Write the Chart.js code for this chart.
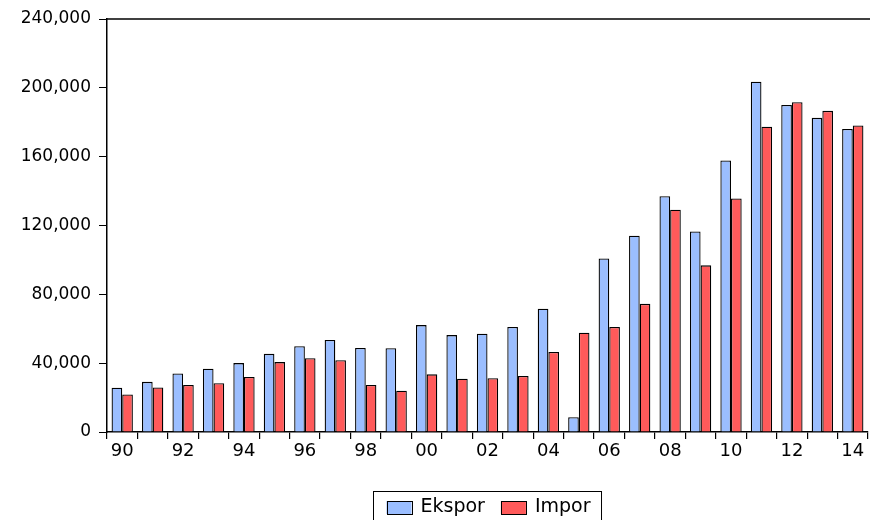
<!DOCTYPE html>
<html>
<head>
<meta charset="utf-8">
<script src="https://cdn.jsdelivr.net/npm/chart.js@4.4.1/dist/chart.umd.min.js"></script>
<style>
  html, body { margin: 0; padding: 0; background: #fff; }
  #wrap { width: 870px; height: 520px; position: relative; }
</style>
</head>
<body>
<div id="wrap"><canvas id="chart"></canvas></div>
<script>
// Data (juta US$)
const years = [1990, 1991, 1992, 1993, 1994, 1995, 1996, 1997, 1998, 1999,
               2000, 2001, 2002, 2003, 2004, 2005, 2006, 2007, 2008, 2009,
               2010, 2011, 2012, 2013, 2014];
const ekspor = [25675, 29142, 33967, 36823, 40053, 45418, 49815, 53443, 48848, 48665,
                62124, 56321, 57159, 61058, 71585, 8566, 100799, 114101, 137020, 116510,
                157779, 203497, 190032, 182552, 176036];
const impor = [21837, 25869, 27280, 28328, 31983, 40630, 42929, 41680, 27337, 24003,
               33515, 30962, 31289, 32551, 46525, 57701, 61066, 74473, 129197, 96829,
               135663, 177436, 191691, 186629, 178179];
const yTicks = [0, 40000, 80000, 120000, 160000, 200000, 240000];

const FONT = 'DejaVu Sans';
const BLUE = '#9BBEFF';
const RED = '#FF5A5A';

// garis atas + legend berbingkai
const framePlugin = {
    id: 'frame',
    afterDraw(chart) {
        const ctx = chart.ctx;
        const a = chart.chartArea;
        ctx.save();
        ctx.strokeStyle = '#000';
        ctx.lineWidth = 1.5;
        ctx.beginPath();
        ctx.moveTo(a.left, a.top);
        ctx.lineTo(chart.width, a.top);
        ctx.stroke();

        // legend
        const items = [
            { label: 'Ekspor', color: BLUE },
            { label: 'Impor', color: RED }
        ];
        ctx.font = '19px "' + FONT + '"';
        const sw = 25, sh = 13, gap = 9, padL = 13, padR = 11, between = 16;
        let total = padL + padR;
        items.forEach((it, i) => {
            it.w = ctx.measureText(it.label).width;
            total += sw + gap + it.w + (i > 0 ? between : 0);
        });
        const cx = (a.left + a.right) / 2;
        const left = Math.round(cx - total / 2) + 0.5;
        const top = 491.5;
        ctx.lineWidth = 1;
        ctx.strokeStyle = '#000';
        ctx.strokeRect(left, top, total, 40);

        let x = left + padL;
        const midY = 507.5;
        ctx.textBaseline = 'middle';
        ctx.textAlign = 'left';
        items.forEach((it, i) => {
            if (i > 0) x += between;
            ctx.fillStyle = it.color;
            ctx.fillRect(x, midY - sh / 2, sw, sh);
            ctx.strokeRect(Math.round(x) + 0.5, Math.round(midY - sh / 2) + 0.5, sw, sh);
            x += sw + gap;
            ctx.fillStyle = '#000';
            ctx.fillText(it.label, x, midY);
            x += it.w;
        });
        ctx.restore();
    }
};

const ctx = document.getElementById('chart').getContext('2d');
new Chart(ctx, {
    type: 'bar',
    data: {
        labels: years,
        datasets: [{
            label: 'Ekspor',
            data: ekspor,
            backgroundColor: BLUE,
            borderColor: '#000',
            borderWidth: 1.3,
            categoryPercentage: 0.7,
            barPercentage: 1.0
        }, {
            label: 'Impor',
            data: impor,
            backgroundColor: RED,
            borderColor: '#000',
            borderWidth: 1.3,
            categoryPercentage: 0.7,
            barPercentage: 1.0
        }]
    },
    options: {
        responsive: true,
        maintainAspectRatio: false,
        animation: false,
        layout: { padding: { top: 19, right: 2, left: 0, bottom: 0 } },
        plugins: {
            legend: { display: false },
            tooltip: { enabled: false }
        },
        scales: {
            x: {
                offset: true,
                afterFit: (scale) => { scale.height = 88; },
                border: { color: '#000', width: 1.5 },
                grid: {
                    offset: true,
                    drawOnChartArea: false,
                    drawTicks: true,
                    tickLength: 7,
                    color: '#000',
                    lineWidth: 1.2
                },
                ticks: {
                    autoSkip: false,
                    maxRotation: 0,
                    padding: 2,
                    color: '#000',
                    font: { family: FONT, size: 18 },
                    callback: function (val, i) {
                        const y = years[i];
                        return y % 2 === 0 ? String(y).slice(2) : '';
                    }
                }
            },
            y: {
                min: 0,
                max: 240000,
                afterFit: (scale) => { scale.width = 107; },
                afterBuildTicks: (scale) => { scale.ticks = yTicks.map(v => ({ value: v })); },
                border: { color: '#000', width: 1.5 },
                grid: {
                    drawOnChartArea: false,
                    drawTicks: true,
                    tickLength: 8,
                    color: '#000',
                    lineWidth: 1
                },
                ticks: {
                    padding: 8,
                    color: '#000',
                    font: { family: FONT, size: 17 },
                    callback: (v) => v.toLocaleString('en-US')
                }
            }
        }
    },
    plugins: [framePlugin]
});
</script>
</body>
</html>
